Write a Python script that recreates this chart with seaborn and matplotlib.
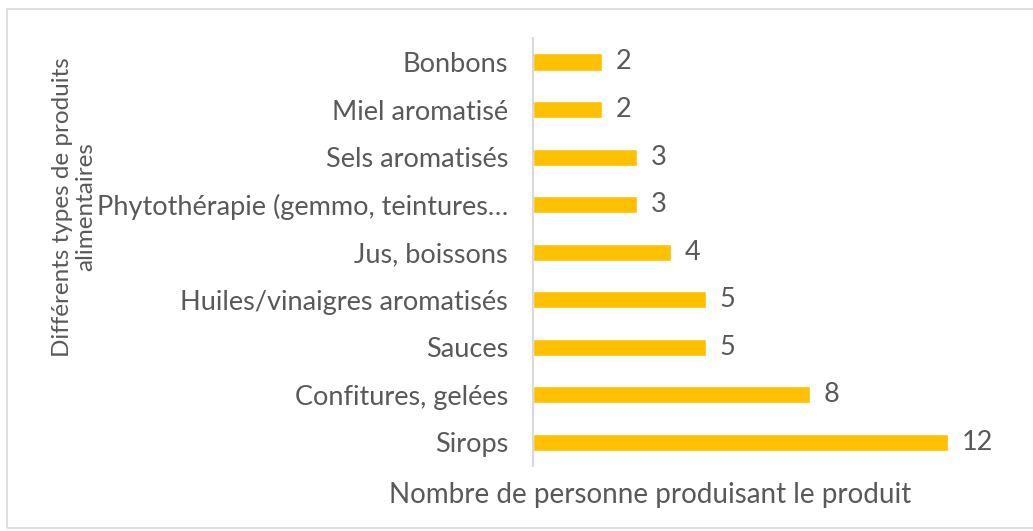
"""Nombre de personnes produisant chaque type de produit alimentaire"""

import matplotlib
matplotlib.use("Agg")
import matplotlib.pyplot as plt
import pandas as pd
import seaborn as sns
from matplotlib.patches import Rectangle

sns.set_theme(style="white")
plt.rcParams["font.family"] = ["Lato", "DejaVu Sans"]

PRODUITS = [
    "Bonbons", "Miel aromatisé", "Sels aromatisés",
    "Phytothérapie (gemmo, teintures…", "Jus, boissons",
    "Huiles/vinaigres aromatisés", "Sauces", "Confitures, gelées", "Sirops",
]
NB_PERSONNES = [2, 2, 3, 3, 4, 5, 5, 8, 12]

TEXT = "#595959"
GOLD = "#FFC000"
FS = 19.5

df = pd.DataFrame({"produit": PRODUITS, "n": NB_PERSONNES})

fig = plt.figure(figsize=(10.33, 5.31), dpi=100)
ax = fig.add_axes([0.516, 0.1224, 0.4685, 0.8056])

sns.barplot(data=df, y="produit", x="n", order=PRODUITS, orient="h",
            color=GOLD, width=0.36, saturation=1, ax=ax)
ax.bar_label(ax.containers[0], padding=10, fontsize=FS, color=TEXT)

ax.set_xlim(0, 14)
ax.set_ylim(8.5, -0.5)
ax.set_xticks([])
ax.set_xlabel("")
ax.set_ylabel("")
ax.tick_params(axis="y", length=0, pad=18, labelsize=FS, labelcolor=TEXT)
for side in ("top", "right", "bottom"):
    ax.spines[side].set_visible(False)
ax.spines["left"].set_color("#D9D9D9")
ax.spines["left"].set_linewidth(1.5)

fig.text(650 / 1033, 1 - 495 / 531, "Nombre de personne produisant le produit",
         ha="center", va="center", fontsize=20, color=TEXT)
fig.text(74 / 1033, 1 - 207 / 531, "Différents types de produits\nalimentaires",
         ha="center", va="center", rotation=90, multialignment="center",
         fontsize=17.5, color=TEXT, linespacing=1.1)

fig.patches.append(Rectangle((7 / 1033, 0.005), 1.1, 1 - 9 / 531 - 0.005,
                             transform=fig.transFigure, fill=False,
                             edgecolor="#D9D9D9", linewidth=1.2))

fig.savefig("out.png", dpi=100)
